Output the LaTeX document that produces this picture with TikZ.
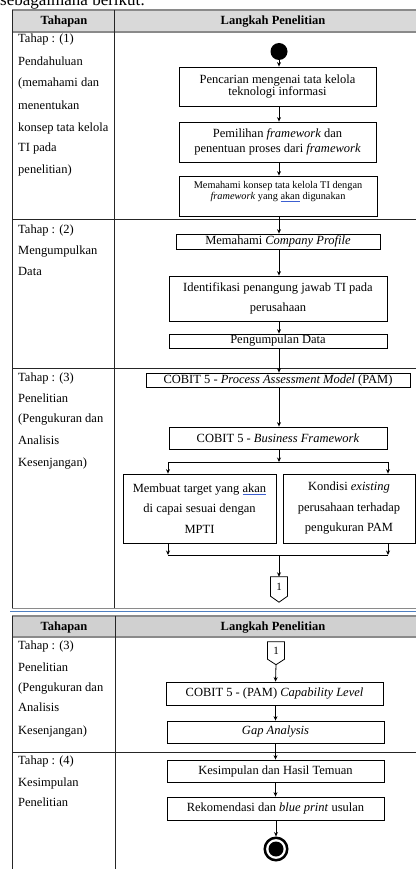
\documentclass[tikz,border=0pt]{standalone}
\usepackage{fontspec}
\setmainfont{Liberation Serif}
\usetikzlibrary{arrows.meta,calc}
\definecolor{hdrfill}{HTML}{D9D9D9}
\definecolor{hdrfillb}{HTML}{D0D0D0}
\definecolor{hdrline}{HTML}{8A8A8A}
\definecolor{bluerule}{HTML}{4F7FC0}
\definecolor{squig}{HTML}{3C5FD0}
\newcommand\myfs[2]{\fontsize{#1}{#2}\selectfont}
\newcommand\spell[1]{\textcolor{squig}{\underline{\textcolor{black}{#1}}}}
\begin{document}
\begin{tikzpicture}[x=1pt,y=-1pt,
  box/.style={draw=black, line width=0.8pt, inner sep=0pt, align=center, font=\myfs{12.5}{15}},
  arr/.style={-{Stealth[length=4.5pt,width=4pt]}, line width=0.8pt},
  ln/.style={line width=0.8pt},
  tline/.style={draw=black!85, line width=1pt},
  hline/.style={draw=hdrline, line width=1.8pt},
  lefttext/.style={anchor=base west, inner sep=0pt, font=\myfs{12.5}{15}},
  hdr/.style={anchor=base, inner sep=0pt, font=\myfs{12.5}{15}\bfseries},
  conn/.style={inner sep=0pt, minimum width=16.6pt, font=\myfs{11}{12}}]
\useasboundingbox (0,0) rectangle (416,869);
\node[anchor=base west, inner sep=0pt, font=\myfs{17}{20}] (intro) at (0,6) {sebagaimana berikut:};

% ---------- table 1 ----------
\fill[hdrfill] (12.3,10) rectangle (416,32.3);
\draw[hline] (12.3,10) -- (416,10);
\draw[hline] (12.3,32.3) -- (416,32.3);
\draw[tline] (12.3,10) -- (12.3,608.5);
\draw[tline] (114.3,10) -- (114.3,608.5);
\draw[tline] (12.3,219) -- (416,219);
\draw[tline] (12.3,368.3) -- (416,368.3);
\draw[hline] (12.3,608.5) -- (416,608.5);
\draw[bluerule, line width=1.2pt] (10,611.3) -- (416,611.3);

% ---------- table 2 ----------
\fill[hdrfillb] (12.3,615.7) rectangle (416,636.7);
\draw[hline] (12.3,615.7) -- (416,615.7);
\draw[hline] (12.3,636.7) -- (416,636.7);
\draw[tline] (12.3,615.7) -- (12.3,869);
\draw[tline] (115.7,615.7) -- (115.7,869);
\draw[tline] (12.3,752.3) -- (416,752.3);

% headers
\node[hdr] (h1a) at (64,25) {Tahapan};
\node[hdr] (h1b) at (273,25) {Langkah Penelitian};
\node[hdr] (h2a) at (64,630) {Tahapan};
\node[hdr] (h2b) at (273,630) {Langkah Penelitian};

% left column texts
\foreach \posy/\words [count=\i] in {
  43/{Tahap : (1)}, 66/{Pendahuluan}, 87/{(memahami dan}, 110/{menentukan},
  132/{konsep tata kelola}, 152/{TI pada}, 174/{penelitian)},
  233/{Tahap : (2)}, 254/{Mengumpulkan}, 275/{Data},
  381/{Tahap : (3)}, 402/{Penelitian}, 422/{(Pengukuran dan}, 444/{Analisis}, 466/{Kesenjangan)},
  649/{Tahap : (3)}, 671/{Penelitian}, 691/{(Pengukuran dan}, 711/{Analisis}, 734/{Kesenjangan)},
  764/{Tahap : (4)}, 786/{Kesimpulan}, 806/{Penelitian}}
  \node[lefttext] (L\i) at (18,\posy) {\words};

% ---------- flow, table 1 ----------
\coordinate (ax) at (279,0);
\node[circle, fill=black, inner sep=0pt, minimum size=17pt] (start) at (279,51.5) {};
\node[box, minimum width=197pt, minimum height=39pt, font=\myfs{12.5}{12.5}] (b1) at (277.5,86.5)
  {Pencarian mengenai tata kelola\\teknologi informasi};
\node[box, minimum width=197pt, minimum height=40pt] (b2) at (277.5,142)
  {Pemilihan \textit{framework} dan\\penentuan proses dari \textit{framework}};
\node[box, minimum width=198pt, minimum height=40pt] (b3) at (278,196) {};
\node[inner sep=0pt, align=center, font=\myfs{10.3}{11}] (b3t) at (278,191.5)
  {Memahami konsep tata kelola TI dengan\\\textit{framework} yang \spell{akan} digunakan};
\node[box, minimum width=204pt, minimum height=15pt] (b4) at (278,241.5) {Memahami \textit{Company Profile}};
\node[box, minimum width=218pt, minimum height=45pt, font=\myfs{12.5}{19.5}] (b5) at (278,298.5)
  {Identifikasi penangung jawab TI pada\\perusahaan};
\node[box, minimum width=218pt, minimum height=14pt] (b6) at (278,341) {Pengumpulan Data};
\node[box, minimum width=264pt, minimum height=14pt] (b7) at (278,380)
  {COBIT 5 - \textit{Process Assessment Model} (PAM)};
\node[box, minimum width=218pt, minimum height=22pt] (b8) at (278,438)
  {COBIT 5 - \textit{Business Framework}};
\node[box, minimum width=153pt, minimum height=69pt, font=\myfs{12.5}{20.5}] (b9) at (199.5,508.5)
  {Membuat target yang \spell{akan}\\di capai sesuai dengan\\MPTI};
\node[box, minimum width=132pt, minimum height=69pt, font=\myfs{12.5}{20.5}] (b10) at (349,508.5)
  {Kondisi \textit{existing}\\perusahaan terhadap\\pengukuran PAM};
\node[conn, minimum height=19pt] (c1) at (279,586.5) {1};
\draw[ln] (c1.north west) -- (c1.north east) -- (c1.south east) -- ($(c1.south)+(0,6)$)
  -- (c1.south west) -- cycle;

\coordinate (sL) at (168,462);
\coordinate (sC) at (279,462);
\coordinate (sR) at (388,462);
\coordinate (jL) at (168,555);
\coordinate (jC) at (279,555);
\coordinate (jR) at (388,555);

\draw[arr] (start) -- (b1.north -| ax);
\draw[arr] (b1.south -| ax) -- (b2.north -| ax);
\draw[arr] (b2.south -| ax) -- (b3.north -| ax);
\draw[arr] (b3.south -| ax) -- (b4.north -| ax);
\draw[arr] (b4.south -| ax) -- (b5.north -| ax);
\draw[arr] (b5.south -| ax) -- (b6.north -| ax);
\draw[arr] (b6.south -| ax) -- (b7.north -| ax);
\draw[arr] (b7.south -| ax) -- (b8.north -| ax);
\draw[arr] (b8.south -| ax) -- (sC);
\draw[ln] (sL) -- (sR);
\draw[arr] (sL) -- (b9.north -| sL);
\draw[arr] (sR) -- (b10.north -| sR);
\draw[arr] (b9.south -| jL) -- (jL);
\draw[arr] (b10.south -| jR) -- (jR);
\draw[ln] (jL) -- (jR);
\draw[arr] (jC) -- (c1.north);

% ---------- flow, table 2 ----------
\coordinate (bx) at (275.5,0);
\node[conn, minimum height=17pt] (c2) at (276,650.5) {1};
\draw[ln] (c2.north west) -- (c2.north east) -- (c2.south east) -- ($(c2.south)+(0,5.5)$)
  -- (c2.south west) -- cycle;
\node[box, minimum width=217pt, minimum height=23pt] (b11) at (274.5,693.5)
  {COBIT 5 - (PAM) \textit{Capability Level}};
\node[box, minimum width=217pt, minimum height=22pt] (b12) at (275.5,732) {\textit{Gap Analysis}};
\node[box, minimum width=217pt, minimum height=22pt] (b13) at (275.5,771) {Kesimpulan dan Hasil Temuan};
\node[box, minimum width=217pt, minimum height=23pt] (b14) at (275.5,808.5)
  {Rekomendasi dan \textit{blue print} usulan};
\node[circle, draw=black, line width=2.5pt, inner sep=0pt, minimum size=22.5pt] (end) at (276,849) {};
\fill[black] (end.center) circle[radius=7.5pt];

\draw[arr] ($(c2.south)+(0,5.5)$) -- (b11.north -| bx);
\draw[arr] (b11.south -| bx) -- (b12.north -| bx);
\draw[arr] (b12.south -| bx) -- (b13.north -| bx);
\draw[arr] (b13.south -| bx) -- (b14.north -| bx);
\draw[arr] (b14.south -| end) -- (end.north);
\end{tikzpicture}
\end{document}
